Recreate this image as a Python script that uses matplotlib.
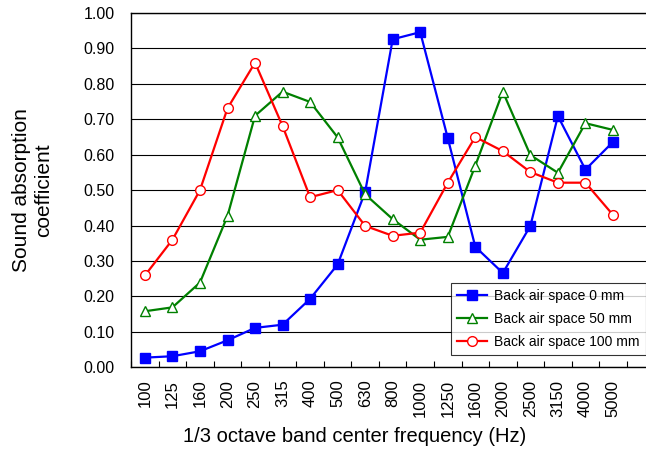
import numpy as np
import matplotlib.pyplot as plt

plt.rcParams["font.family"] = ["Liberation Sans", "DejaVu Sans"]

# ====================== DADOS ======================
freqs = ["100", "125", "160", "200", "250", "315", "400", "500", "630",
         "800", "1000", "1250", "1600", "2000", "2500", "3150", "4000", "5000"]

air_0mm = [0.027, 0.031, 0.045, 0.076, 0.111, 0.120, 0.193, 0.290, 0.495,
           0.926, 0.946, 0.647, 0.340, 0.266, 0.399, 0.709, 0.558, 0.636]
air_50mm = [0.158, 0.169, 0.239, 0.427, 0.710, 0.778, 0.749, 0.649, 0.488,
            0.418, 0.360, 0.368, 0.569, 0.778, 0.599, 0.549, 0.689, 0.670]
air_100mm = [0.259, 0.360, 0.500, 0.731, 0.860, 0.681, 0.480, 0.500, 0.399,
             0.371, 0.380, 0.521, 0.650, 0.610, 0.551, 0.521, 0.521, 0.430]

labels = ["Back air space 0 mm", "Back air space 50 mm", "Back air space 100 mm"]

# ====================== PLOT ======================
fig = plt.figure(figsize=(6.46, 4.5), dpi=100)
ax = fig.add_axes([0.203, 0.184, 0.797, 0.787])

x = np.arange(len(freqs))

ax.plot(x, air_0mm, color="#0000ff", lw=1.6, marker="s", ms=7,
        mfc="#0000ff", mec="#0000ff", label=labels[0], zorder=3)
ax.plot(x, air_50mm, color="#008000", lw=1.6, marker="^", ms=7.5,
        mfc="white", mec="#008000", mew=1.0, label=labels[1], zorder=3)
ax.plot(x, air_100mm, color="#ff0000", lw=1.6, marker="o", ms=7,
        mfc="white", mec="#ff0000", mew=1.0, label=labels[2], zorder=3)

ax.set_xlim(-0.5, 18.2)
ax.set_ylim(0, 1.0)

ax.set_yticks(np.arange(0, 1.01, 0.1))
ax.set_yticklabels([f"{v:.2f}" for v in np.arange(0, 1.01, 0.1)], fontsize=11.5)
ax.tick_params(axis="y", length=0, pad=12)

ax.set_xticks(x)
ax.set_xticklabels(freqs, rotation=90, fontsize=12)
ax.tick_params(axis="x", length=0, pad=9)
ax.set_xticks(np.arange(-0.5, 18.0, 1.0), minor=True)
ax.tick_params(axis="x", which="minor", direction="in", length=4, width=0.8)

ax.grid(axis="y", color="black", lw=0.8)
ax.set_axisbelow(True)
for s in ["left", "bottom", "top"]:
    ax.spines[s].set_linewidth(1.0)
ax.spines["right"].set_visible(False)

ax.set_xlabel("1/3 octave band center frequency (Hz)", fontsize=14.5)
ax.xaxis.set_label_coords(0.435, -0.17)
ax.set_ylabel("Sound absorption\ncoefficient", fontsize=15, labelpad=22)

leg = ax.legend(loc="lower right", bbox_to_anchor=(1.0, 0.034), fontsize=10,
                frameon=True, fancybox=False, edgecolor="black",
                borderaxespad=0, handlelength=2.2, labelspacing=0.65,
                borderpad=0.45, handletextpad=0.5)
leg.get_frame().set_linewidth(0.8)

fig.savefig("out.png", dpi=100)
